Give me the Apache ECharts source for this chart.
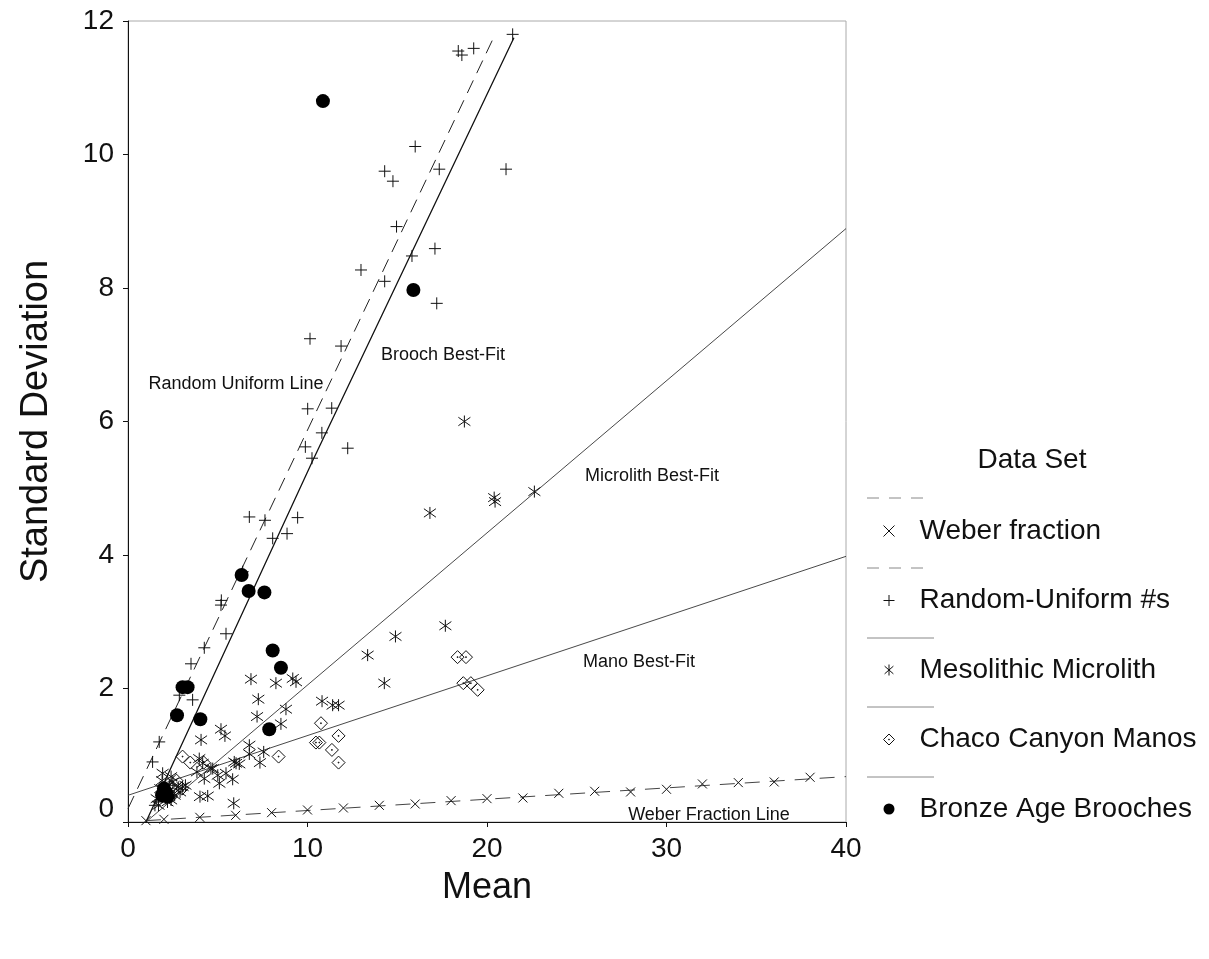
<!DOCTYPE html>
<html>
<head>
    <meta charset="utf-8">
    <title>Mean vs Standard Deviation</title>
    <script src="https://cdn.jsdelivr.net/npm/echarts@6.0.0/dist/echarts.min.js"></script>
    <style>
        body { margin: 0; background: #fff; }
        #chart { width: 1209px; height: 959px; }
    </style>
</head>
<body>
    <div id="chart"></div>
    <script>
        // 数据
        var weberPts = [[1, 0.02], [2, 0.04], [4, 0.07], [6, 0.1], [8, 0.14], [10, 0.18], [12, 0.21], [14, 0.25],
            [16, 0.27], [18, 0.32], [20, 0.35], [22, 0.36], [24, 0.43], [26, 0.46], [28, 0.45], [30, 0.49],
            [32, 0.57], [34, 0.59], [36, 0.6], [38, 0.67]];

        var randomPts = [[1.5, 0.25], [1.7, 0.3], [2.0, 0.45], [2.3, 0.55], [1.37, 0.9], [1.74, 1.2], [2.86, 1.9],
            [3.6, 1.83], [3.51, 2.37], [4.25, 2.61], [5.46, 2.82], [5.18, 3.25], [5.2, 3.32], [6.39, 3.75],
            [6.76, 4.57], [7.63, 4.52], [8.06, 4.25], [8.86, 4.32], [9.45, 4.56], [9.88, 5.62], [10.25, 5.45],
            [10.8, 5.83], [10.01, 6.19], [11.35, 6.2], [12.24, 5.6], [10.14, 7.24], [11.87, 7.13], [12.98, 8.27],
            [14.3, 8.1], [15.82, 8.48], [17.1, 8.59], [17.2, 7.77], [14.96, 8.92], [14.3, 9.75], [14.76, 9.6],
            [17.34, 9.78], [16.0, 10.12], [21.06, 9.78], [18.4, 11.55], [18.6, 11.49], [19.26, 11.59], [21.43, 11.8]];

        var microPts = [[1.6, 0.35], [1.7, 0.25], [1.8, 0.5], [1.9, 0.62], [1.93, 0.73], [2.0, 0.42], [2.1, 0.55],
            [2.2, 0.3], [2.3, 0.48], [2.4, 0.68], [2.5, 0.6], [2.6, 0.4], [2.8, 0.52], [2.9, 0.45], [3.04, 0.53],
            [3.2, 0.55], [2.4, 0.33], [3.84, 0.75], [3.97, 0.95], [4.01, 0.38], [4.07, 1.23], [4.16, 0.88],
            [4.25, 0.65], [4.44, 0.39], [4.62, 0.8], [4.72, 0.8], [5.0, 0.7], [5.09, 0.58], [5.18, 1.39],
            [5.4, 1.29], [5.46, 0.73], [5.83, 0.64], [5.89, 0.28], [5.92, 0.9], [6.02, 0.88], [6.2, 0.87],
            [6.76, 1.15], [6.76, 1.02], [6.85, 2.14], [7.19, 1.58], [7.26, 1.84], [7.35, 0.89], [7.56, 1.05],
            [8.24, 2.08], [8.52, 1.47], [8.8, 1.69], [9.18, 2.15], [9.36, 2.1], [10.81, 1.81], [11.4, 1.75],
            [11.73, 1.75], [13.35, 2.5], [14.28, 2.08], [14.9, 2.78], [16.82, 4.63], [17.68, 2.94], [18.74, 6.0],
            [20.45, 4.8], [20.4, 4.86], [22.64, 4.95]];

        var manoPts = [[2.2, 0.45], [2.4, 0.38], [2.5, 0.5], [2.7, 0.62], [3.0, 0.5], [3.04, 0.98], [3.47, 0.89],
            [4.22, 0.89], [8.39, 0.98], [10.47, 1.19], [10.66, 1.19], [10.75, 1.48], [11.36, 1.08], [11.73, 1.29],
            [11.73, 0.89], [18.36, 2.47], [18.83, 2.47], [18.68, 2.08], [19.1, 2.08], [19.48, 1.98]];

        var broochPts = [[1.9, 0.4], [2.1, 0.45], [2.2, 0.38], [2.0, 0.5], [2.73, 1.6], [3.04, 2.02], [3.32, 2.02],
            [4.03, 1.54], [6.33, 3.7], [6.72, 3.46], [7.6, 3.44], [7.87, 1.39], [8.06, 2.57], [8.52, 2.31],
            [10.86, 10.8], [15.9, 7.97]];

        // 拟合线端点
        var randomLine = [[0, 0.2], [20.4, 11.77]];
        var broochLine = [[1.0, 0], [10.3, 5.42], [21.5, 11.75]];
        var microLine = [[1.0, 0], [40, 8.89]];
        var manoLine = [[0, 0.4], [40, 3.98]];
        var weberLine = [[1, 0.02], [40, 0.68]];

        var seriesNames = ['Weber fraction', 'Random-Uniform #s', 'Mesolithic Microlith', 'Chaco Canyon Manos', 'Bronze Age Brooches'];

        // 符号
        var symCross = 'path://M0 0L10 10M10 0L0 10';
        var symPlus = 'path://M5 0L5 10M0 5L10 5';
        var symStar = 'path://M1 1.5L9 8.5M9 1.5L1 8.5M5 0L5 10';
        var symDiamond = 'path://M5 0L10 5L5 10L0 5Z M4.7 4.7L5.3 4.7L5.3 5.3L4.7 5.3Z';

        var font = '"Liberation Sans", Arial, sans-serif';
        var strokeStyle = { color: 'transparent', borderColor: '#111', borderWidth: 1, opacity: 1 };
        var dotStyle = { color: '#000', opacity: 1 };

        function fitLine(data, color, width, type) {
            return {
                type: 'line', data: data, symbol: 'none', silent: true, z: 2,
                lineStyle: { color: color, width: width, type: type }
            };
        }

        var myChart = echarts.init(document.getElementById('chart'));

        var option = {
            backgroundColor: '#fff',
            animation: false,
            textStyle: { fontFamily: font },
            grid: {
                left: 128, top: 21, width: 718, height: 801,
                show: true, borderColor: '#aaa', borderWidth: 1
            },
            xAxis: {
                type: 'value', min: 0, max: 40, interval: 10,
                name: 'Mean', nameLocation: 'middle', nameGap: 48,
                nameTextStyle: { fontSize: 36, color: '#111', fontFamily: font },
                axisLine: { lineStyle: { color: '#111', width: 1 } },
                axisTick: { length: 5, lineStyle: { color: '#111' } },
                axisLabel: { fontSize: 28, color: '#111', margin: 13, fontFamily: font },
                splitLine: { show: false }
            },
            yAxis: {
                type: 'value', min: 0, max: 12, interval: 2,
                name: 'Standard Deviation', nameLocation: 'middle', nameGap: 72,
                nameTextStyle: { fontSize: 38, color: '#111', fontFamily: font },
                axisLine: { show: true, lineStyle: { color: '#111', width: 1 } },
                axisTick: { show: true, length: 5, lineStyle: { color: '#111' } },
                axisLabel: {
                    fontSize: 28, color: '#111', margin: 14, fontFamily: font,
                    formatter: function (v) { return v === 0 ? '{z|0}' : v; },
                    rich: { z: { fontSize: 28, color: '#111', fontFamily: font, padding: [0, 0, 26, 0] } }
                },
                splitLine: { show: false }
            },
            legend: {
                orient: 'vertical', left: 883, top: 517, padding: 0,
                itemWidth: 11, itemHeight: 11, itemGap: 41.5,
                textStyle: { fontSize: 28, color: '#111', fontFamily: font, padding: [0, 0, 0, 20] },
                data: [
                    { name: seriesNames[0], icon: symCross, itemStyle: strokeStyle },
                    { name: seriesNames[1], icon: symPlus, itemStyle: strokeStyle },
                    { name: seriesNames[2], icon: symStar, itemStyle: strokeStyle },
                    { name: seriesNames[3], icon: symDiamond, itemStyle: strokeStyle },
                    { name: seriesNames[4], icon: 'circle', itemStyle: dotStyle }
                ]
            },
            graphic: [
                { type: 'text', x: 1032, y: 460, style: { text: 'Data Set', font: '28px ' + font, fill: '#111', align: 'center', verticalAlign: 'middle' } },
                { type: 'line', shape: { x1: 867, y1: 498, x2: 930, y2: 498 }, style: { stroke: '#888', lineWidth: 1, lineDash: [12, 10] } },
                { type: 'line', shape: { x1: 867, y1: 568, x2: 930, y2: 568 }, style: { stroke: '#888', lineWidth: 1, lineDash: [12, 10] } },
                { type: 'line', shape: { x1: 867, y1: 638, x2: 934, y2: 638 }, style: { stroke: '#888', lineWidth: 1 } },
                { type: 'line', shape: { x1: 867, y1: 707, x2: 934, y2: 707 }, style: { stroke: '#888', lineWidth: 1 } },
                { type: 'line', shape: { x1: 867, y1: 777, x2: 934, y2: 777 }, style: { stroke: '#888', lineWidth: 1 } },
                // 图内标注
                { type: 'text', x: 236, y: 384, style: { text: 'Random Uniform Line', font: '18px ' + font, fill: '#111', align: 'center', verticalAlign: 'middle' } },
                { type: 'text', x: 443, y: 355, style: { text: 'Brooch Best-Fit', font: '18px ' + font, fill: '#111', align: 'center', verticalAlign: 'middle' } },
                { type: 'text', x: 652, y: 476, style: { text: 'Microlith Best-Fit', font: '18px ' + font, fill: '#111', align: 'center', verticalAlign: 'middle' } },
                { type: 'text', x: 639, y: 662, style: { text: 'Mano Best-Fit', font: '18px ' + font, fill: '#111', align: 'center', verticalAlign: 'middle' } },
                { type: 'text', x: 709, y: 815, style: { text: 'Weber Fraction Line', font: '18px ' + font, fill: '#111', align: 'center', verticalAlign: 'middle' } }
            ],
            series: [
                fitLine(randomLine, '#222', 1, [14, 8]),
                fitLine(broochLine, '#111', 1.3, 'solid'),
                fitLine(microLine, '#333', 0.9, 'solid'),
                fitLine(manoLine, '#333', 0.9, 'solid'),
                fitLine(weberLine, '#444', 1, [15, 10]),
                { name: seriesNames[0], type: 'scatter', data: weberPts, symbol: symCross, symbolSize: 9, itemStyle: strokeStyle, z: 3 },
                { name: seriesNames[1], type: 'scatter', data: randomPts, symbol: symPlus, symbolSize: 12, itemStyle: strokeStyle, z: 3 },
                { name: seriesNames[2], type: 'scatter', data: microPts, symbol: symStar, symbolSize: 12, itemStyle: strokeStyle, z: 3 },
                { name: seriesNames[3], type: 'scatter', data: manoPts, symbol: symDiamond, symbolSize: 13, itemStyle: strokeStyle, z: 3 },
                { name: seriesNames[4], type: 'scatter', data: broochPts, symbol: 'circle', symbolSize: 14, itemStyle: dotStyle, z: 4 }
            ]
        };

        myChart.setOption(option);
    </script>
</body>
</html>
